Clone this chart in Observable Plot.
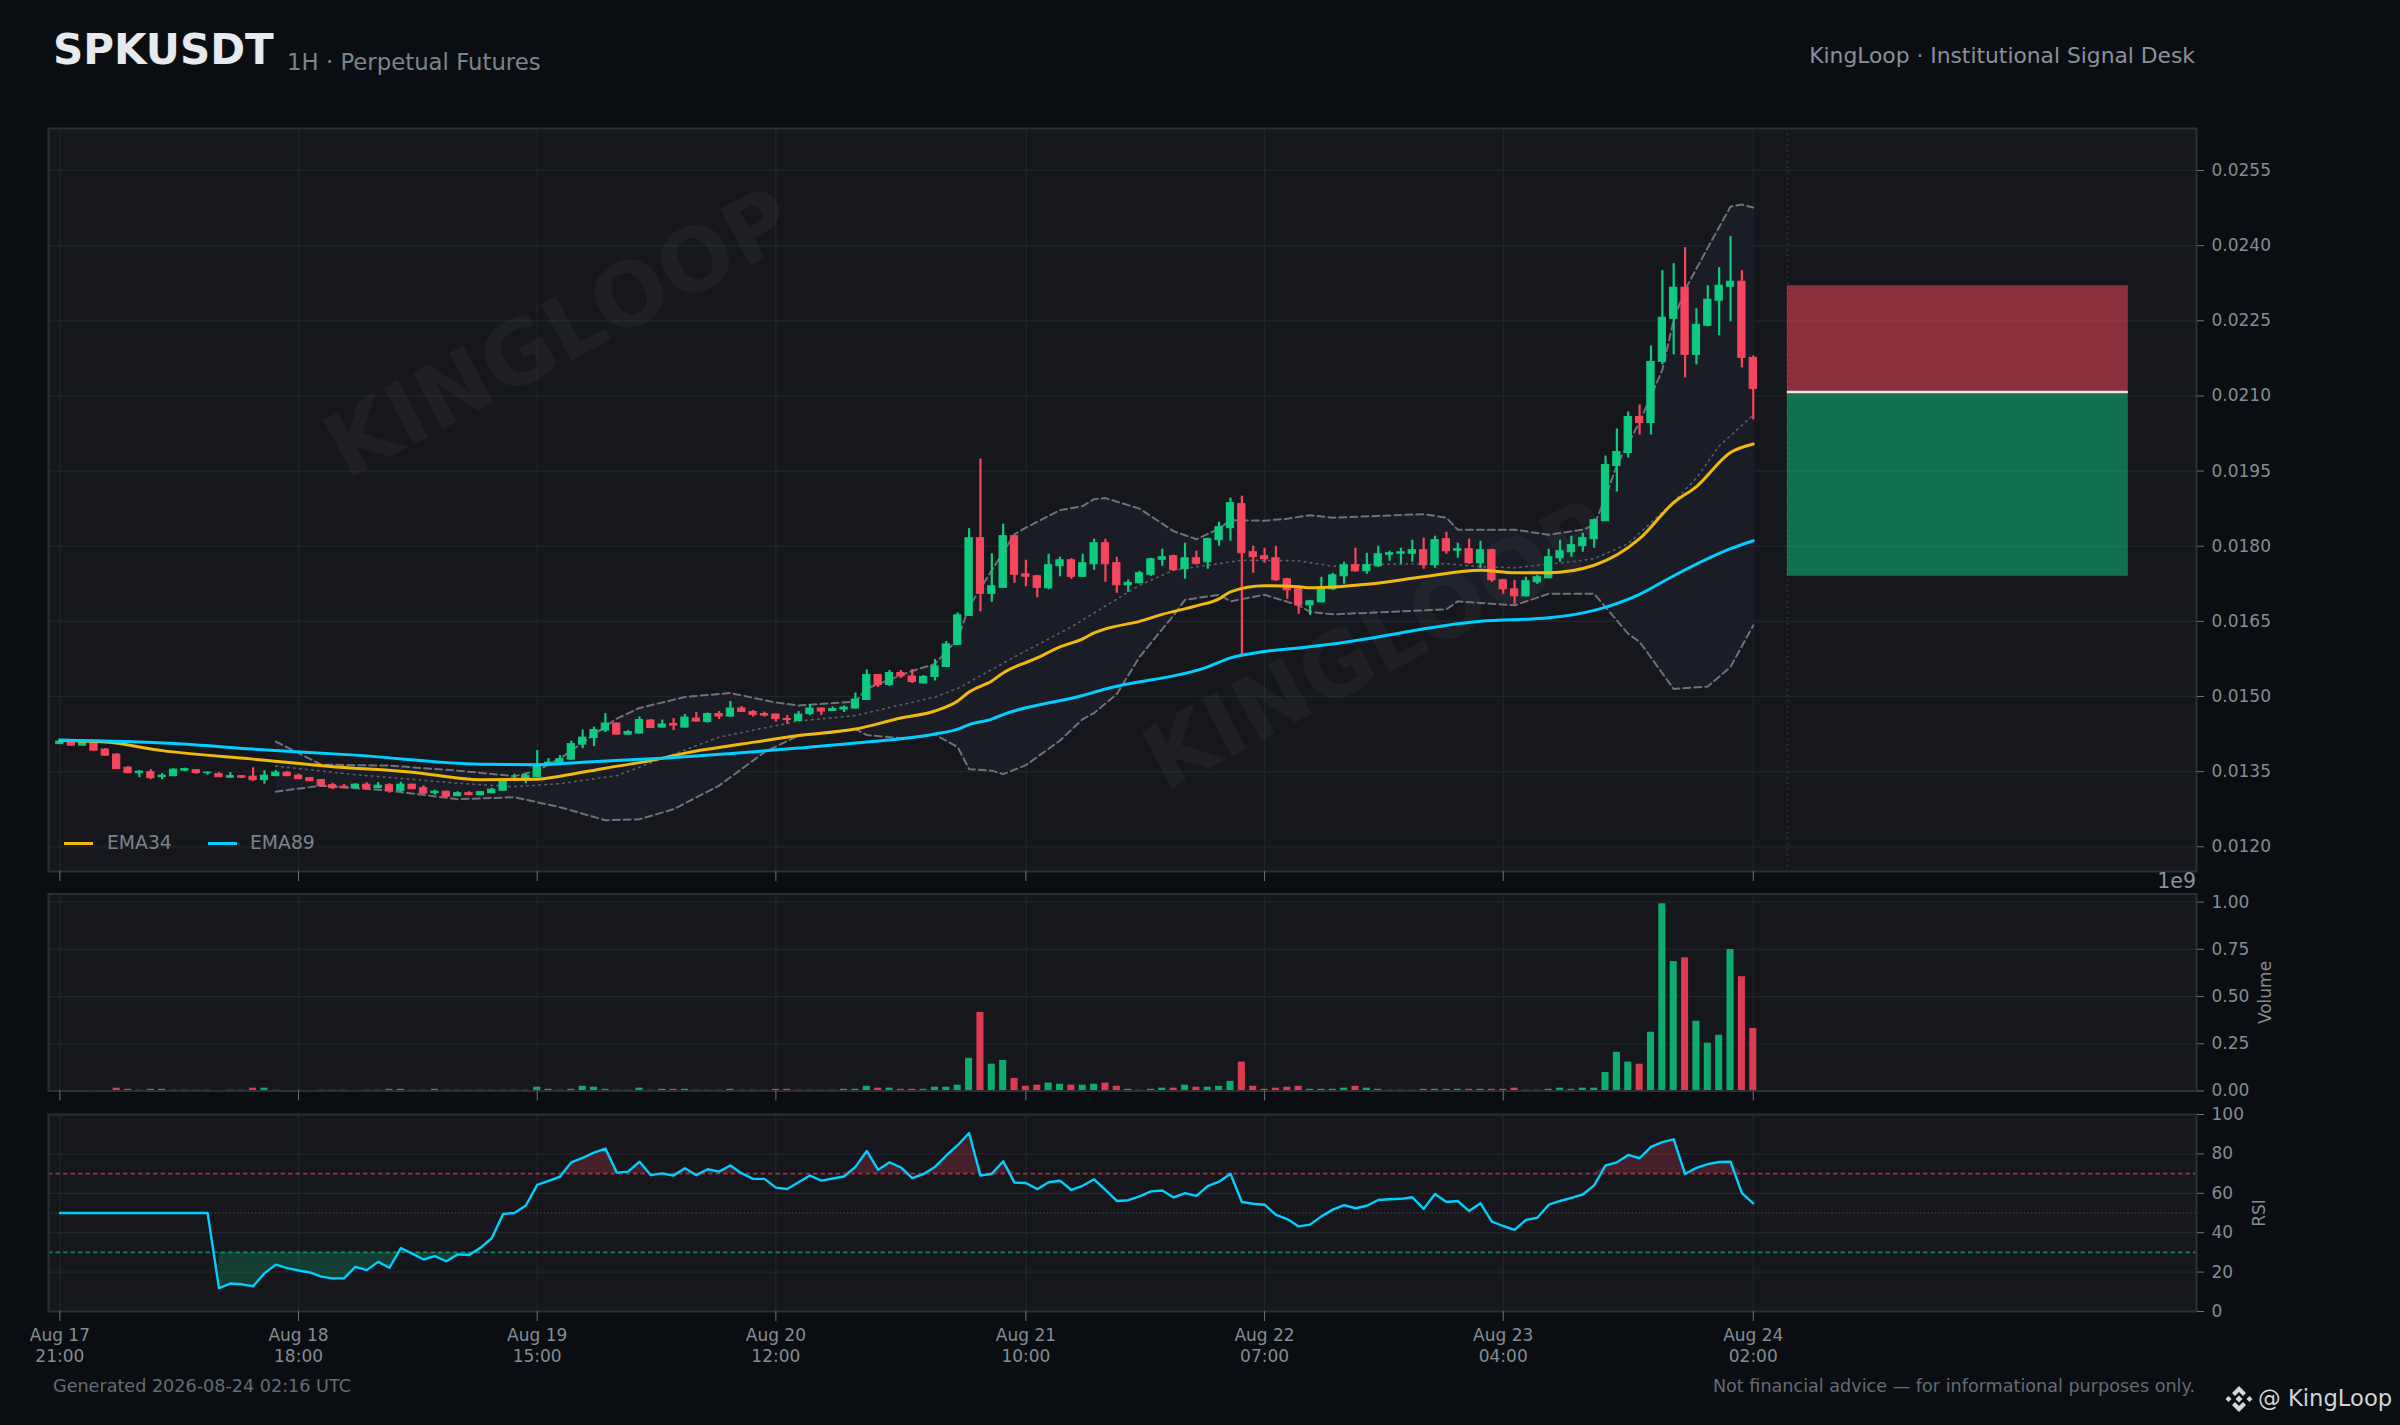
<!DOCTYPE html>
<html><head><meta charset="utf-8">
<script src="https://cdn.jsdelivr.net/npm/d3@7"></script>
<script src="https://cdn.jsdelivr.net/npm/@observablehq/plot@0.6"></script>
<style>
html,body{margin:0;padding:0;background:#0a0e12;width:2400px;height:1425px;overflow:hidden}
#page{position:relative;width:2400px;height:1425px;font-family:"DejaVu Sans",sans-serif}
#page>div{position:absolute;white-space:nowrap;line-height:1}
#page svg{overflow:visible;background:transparent}
.pane{left:0}
</style></head><body>
<div id="page">
<div class="pane" id="main" style="top:126px"></div>
<div class="pane" id="vol" style="top:891px"></div>
<div class="pane" id="rsi" style="top:1112px"></div>
<div style="left:53px;top:29px;font-size:42px;font-weight:bold;color:#e6e9ed">SPKUSDT</div>
<div style="left:287px;top:51px;font-size:22.8px;color:#7b838d">1H · Perpetual Futures</div>
<div style="right:205px;top:45px;font-size:21.8px;color:#8a9099">KingLoop · Institutional Signal Desk</div>
<div style="left:53px;top:1378px;font-size:17.6px;color:#656b74">Generated 2026-08-24 02:16 UTC</div>
<div style="right:205px;top:1378px;font-size:17.6px;color:#656b74">Not financial advice — for informational purposes only.</div>
<div style="right:204px;top:871px;font-size:20.5px;color:#8a9099">1e9</div>
<div style="left:64px;top:834px;width:29px;height:3px;margin-top:8px;background:#f0b90b"></div>
<div style="left:107px;top:834px;font-size:18.8px;color:#7d838c">EMA34</div>
<div style="left:208px;top:834px;width:29px;height:3px;margin-top:8px;background:#00d0ff"></div>
<div style="left:250px;top:834px;font-size:18.8px;color:#7d838c">EMA89</div>
<div style="left:2225px;top:1385px;width:28px;height:28px">
<svg width="28" height="28" viewBox="0 0 28 28"><g fill="#d4d7dc"><path d="M14 10.5L17.5 14 14 17.5 10.5 14z"/><path d="M14 1L21 8 18 11 14 7 10 11 7 8z"/><path d="M14 27L21 20 18 17 14 21 10 17 7 20z"/><path d="M0.5 14L3.5 11 6.5 14 3.5 17z"/><path d="M27.500 14L24.500 11 21.500 14 24.500 17z"/></g></svg></div>
<div style="left:2258px;top:1387px;font-size:22.7px;color:#d0d3d8">@ KingLoop</div>
</div>
<script>
const open=[.01405,.01408,.01402,.01407,.01394,.01384,.01358,.01347,.01349,.01339,.01341,.01352,.01353,.01347,.01345,.01338,.01341,.0134,.01333,.01341,.01348,.01342,.01337,.01333,.01323,.0132,.01317,.01324,.01317,.01323,.01312,.01324,.01317,.01307,.0131,.01301,.01307,.01303,.01307,.01312,.01334,.01335,.01339,.01362,.01367,.01374,.01404,.01417,.01432,.01446,.01424,.01426,.01452,.01438,.01445,.01438,.01456,.01449,.01465,.0146,.01476,.01469,.01465,.01464,.01455,.01451,.01465,.01476,.01471,.01474,.01476,.01493,.01543,.01523,.01547,.0154,.01526,.01539,.01559,.01603,.01661,.01816,.01705,.01717,.0182,.01744,.0174,.01716,.0176,.01772,.01739,.01764,.01806,.01766,.01722,.01726,.01743,.01773,.0178,.01754,.01776,.01768,.01812,.01836,.01884,.01788,.0178,.01776,.01734,.01716,.01682,.01688,.01714,.0174,.01762,.0175,.0176,.01783,.01785,.01785,.01792,.01762,.01814,.01791,.01794,.01766,.01792,.01732,.01714,.017,.01728,.01736,.01776,.01788,.018,.01814,.0185,.0196,.01986,.02058,.02046,.02168,.02254,.02316,.02182,.0224,.0229,.02318,.02328,.02176];
const high=[.01412,.0141,.0141,.01408,.01396,.01386,.0136,.01352,.01354,.01346,.01356,.01357,.01354,.01349,.01348,.01348,.01342,.01358,.01352,.01352,.0135,.01345,.01338,.01334,.01327,.01324,.01326,.01328,.01328,.01326,.01329,.01325,.01322,.01313,.01311,.0131,.0131,.0131,.01317,.01333,.01345,.01346,.01392,.01376,.01382,.01411,.01433,.01439,.01466,.01447,.01432,.01459,.01454,.01453,.01456,.01464,.01468,.01467,.0147,.0149,.0148,.01472,.01469,.01465,.01462,.0147,.01484,.01477,.01479,.01481,.01507,.01553,.01544,.01552,.01552,.01554,.01542,.01574,.0161,.01667,.01835,.01974,.01785,.01844,.01821,.01772,.01742,.01784,.01778,.01775,.01784,.01814,.01814,.01778,.01733,.0175,.01776,.01794,.01782,.01806,.0179,.01816,.01848,.01896,.019,.018,.01796,.018,.01736,.01716,.01692,.01738,.01746,.01768,.01796,.01786,.018,.0179,.01796,.01812,.01816,.0182,.01828,.01806,.01814,.0181,.01794,.01734,.01732,.01738,.01742,.01794,.01812,.0182,.01826,.01854,.0198,.02034,.02068,.02082,.022,.0235,.02364,.02396,.02274,.0232,.02356,.02418,.0235,.0218];
const low=[.01404,.01401,.01401,.01391,.01381,.01354,.01346,.01338,.01334,.01334,.0134,.0135,.01345,.01343,.01338,.01337,.01336,.0133,.01325,.0134,.0134,.01334,.0133,.0132,.01314,.01316,.01316,.01315,.01316,.01307,.01309,.01314,.01305,.01303,.01297,.013,.01302,.01302,.01306,.01311,.0133,.01326,.01338,.0136,.01365,.01373,.01396,.014,.01428,.01423,.01423,.01425,.01436,.01437,.01432,.01437,.01449,.01447,.01454,.01459,.01468,.01459,.01459,.01449,.01444,.0145,.01462,.01462,.0147,.01468,.01475,.01492,.01518,.0152,.01536,.01526,.01525,.01531,.01558,.01602,.0166,.01669,.01688,.01716,.01726,.01719,.01697,.01713,.01739,.01734,.01738,.01752,.01728,.01706,.01708,.01725,.0174,.0176,.0175,.01734,.01762,.01754,.018,.0181,.01582,.01746,.01766,.0173,.01694,.01664,.01662,.01687,.01712,.01724,.01748,.01744,.01758,.0177,.01764,.01768,.01754,.01756,.01784,.01776,.01764,.01756,.01728,.01704,.01684,.01699,.01724,.01735,.01768,.01778,.01788,.01796,.01849,.01908,.01976,.02022,.02022,.02162,.02182,.02136,.02162,.02238,.0222,.02248,.02156,.02052];
const close=[.0141,.01402,.01408,.01392,.01382,.01355,.01347,.0135,.01337,.01342,.01354,.01355,.01347,.01348,.01339,.01341,.01338,.01333,.01342,.01348,.01341,.01335,.01331,.01321,.01317,.01317,.01324,.01316,.01322,.01312,.01324,.01315,.01306,.0131,.013,.01307,.01303,.01309,.01314,.01331,.01336,.01342,.01364,.01368,.01375,.01405,.01418,.01433,.01446,.01424,.01429,.01453,.01437,.01444,.01442,.01458,.0145,.01465,.0146,.01476,.01469,.01463,.01462,.01455,.01453,.01464,.01476,.0147,.01475,.01478,.01494,.01543,.01523,.01547,.0154,.01529,.01539,.0156,.01604,.01662,.01816,.01705,.0172,.0182,.01743,.01739,.01717,.01762,.01772,.01739,.01766,.01806,.01764,.01722,.01727,.01746,.01774,.01778,.01752,.01776,.01765,.01814,.01838,.01886,.01786,.01778,.01774,.01732,.01712,.01682,.0169,.01714,.01742,.01762,.0175,.01762,.01784,.01786,.01788,.01792,.01762,.01812,.0179,.01794,.01766,.01792,.01732,.01714,.017,.0173,.01738,.01778,.0179,.01802,.01816,.01852,.01962,.01988,.02058,.02046,.02168,.02256,.02316,.02182,.02242,.02292,.0232,.02328,.02176,.02114];
const volume=[0,0,0,.003,.003,.015,.009,.004,.009,.009,.004,.004,.004,.004,.003,.004,.004,.015,.015,.004,.003,.003,.003,.004,.004,.004,.003,.004,.004,.009,.009,.004,.004,.009,.004,.004,.004,.004,.004,.004,.004,.004,.02,.009,.004,.009,.025,.02,.009,.004,.004,.015,.004,.009,.009,.009,.004,.004,.004,.009,.004,.004,.004,.009,.009,.004,.004,.004,.004,.009,.009,.025,.015,.015,.009,.009,.009,.02,.02,.031,.173,.416,.142,.162,.067,.025,.031,.042,.036,.031,.031,.036,.042,.025,.009,.004,.009,.015,.015,.031,.02,.02,.025,.051,.153,.025,.009,.015,.02,.025,.009,.009,.009,.015,.025,.015,.009,.004,.004,.004,.009,.009,.009,.009,.009,.009,.009,.009,.015,.004,.004,.009,.015,.009,.015,.015,.098,.205,.153,.142,.311,.991,.685,.705,.369,.253,.295,.749,.605,.331];
const rsi=[50,50,50,50,50,50,50,50,50,50,50,50,50,50,11.9,14.2,13.8,12.8,19.4,23.8,22,20.8,19.8,17.7,16.8,16.8,22.7,21,25.2,22.2,32.2,29.4,26.4,28.1,25.5,29,28.7,32.3,37.2,49.5,50,53.8,64.3,66.3,68.4,75.7,78,80.6,82.7,70.5,71,76,69.2,70.1,69,72.7,69.2,72.2,71,74.1,70.1,67.3,67.3,62.9,62.2,65.6,69,66.4,67.5,68.5,73.4,81.5,71.9,75.7,73.1,67.7,69.8,73.4,79.2,84.4,90.6,69,69.9,76.2,65.4,65.2,62.1,65.6,66.4,61.7,63.8,67.1,61.7,56.1,56.5,58.4,61,61.4,57.9,60.1,58.7,63.6,65.9,69.9,55.6,54.7,54.2,49,46.9,43.2,44.1,48.3,51.7,54,52.4,53.7,56.6,57,57.2,58,52.1,59.6,55.6,56.1,51,54.9,45.6,43.4,41.4,46.5,47.6,54.2,56.1,57.7,59.4,64,74.1,75.7,79.5,77.8,83.6,86,87.4,69.8,72.9,74.8,75.9,76,60.1,54.9];
// read-off lines: [bar index, price]
const ema34=[[0,.01412],[4,.01409],[9,.01392],[17,.01375],[24,.0136],[31,.01349],[37,.01334],[42,.01335],[44,.01341],[48,.01357],[52,.01372],[55,.01387],[60,.01405],[65,.01422],[70,.01435],[74,.01457],[77,.01471],[79,.01491],[80,.01509],[82,.01531],[83,.01547],[86,.01577],[88,.01599],[90,.01615],[91,.01627],[92,.01635],[95,.0165],[97,.01664],[100,.01681],[102,.01695],[103,.01709],[106,.01721],[109,.01719],[110,.01717],[115,.01724],[120,.01739],[125,.01752],[128,.01747],[131,.01747],[135,.01762],[139,.01815],[142,.01887],[144,.01919],[147,.01987],[149,.02004]];
const ema89=[[0,.01413],[10,.01406],[17,.01395],[26,.01383],[37,.01365],[42,.01364],[46,.01369],[53,.01377],[65,.01397],[70,.01407],[77,.01425],[79,.01435],[80,.01444],[82,.01455],[83,.01464],[90,.01502],[92,.01515],[101,.01559],[103,.01577],[106,.0159],[109,.01597],[112,.01605],[125,.0165],[131,.01657],[135,.01672],[139,.01704],[142,.01741],[147,.01795],[149,.01811]];
const bbUpper=[[19,.0141],[23,.01364],[29,.01362],[35,.01352],[40,.01341],[42,.01352],[44,.01376],[49,.01456],[51,.01477],[55,.01499],[59,.01507],[63,.01488],[65,.01482],[70,.0149],[71,.01516],[75,.01551],[77,.01565],[79,.01615],[80,.01679],[82,.01752],[84,.01824],[85,.01837],[88,.01872],[90,.0188],[91,.01894],[92,.01896],[95,.01875],[98,.0183],[100,.01814],[102,.01835],[103,.01852],[106,.01851],[108,.01855],[110,.01862],[112,.01857],[120,.01864],[122,.01857],[123,.01833],[128,.01833],[131,.01823],[134,.01833],[135,.01842],[136,.01898],[137,.01962],[139,.02048],[141,.02152],[142,.02252],[143,.02312],[145,.02396],[147,.02478],[148,.02482],[149,.02476]];
const bbMid=[[19,.01361],[26,.01344],[35,.01327],[40,.0132],[44,.01326],[49,.01342],[53,.01376],[58,.01419],[65,.01451],[70,.01462],[77,.01499],[79,.01516],[84,.01579],[89,.01639],[95,.01722],[98,.01752],[104,.01772],[109,.01771],[112,.0176],[116,.01764],[122,.01765],[125,.01759],[128,.01757],[133,.01769],[135,.01775],[138,.01805],[142,.01889],[144,.01936],[146,.02],[149,.02062]];
const bbLower=[[19,.0131],[23,.01322],[29,.01312],[35,.01295],[40,.01299],[44,.01279],[48,.01253],[51,.01255],[54,.01275],[58,.01322],[62,.01389],[65,.01422],[70,.01435],[71,.01423],[74,.01417],[77,.01424],[79,.01399],[80,.01355],[82,.01352],[83,.01345],[85,.01363],[88,.01412],[90,.01455],[91,.01467],[93,.01505],[95,.01579],[98,.01662],[99,.01693],[102,.01703],[103,.0169],[106,.01703],[109,.01682],[110,.01669],[112,.01664],[122,.01674],[123,.0169],[128,.01682],[131,.01705],[135,.01705],[138,.01625],[139,.01609],[142,.01515],[145,.0152],[147,.01559],[149,.01642]];
const priceTicks=[.012,.0135,.015,.0165,.018,.0195,.021,.0225,.024,.0255];
const volTicks=[0,.25,.5,.75,1];
const rsiTicks=[0,20,40,60,80,100];
const barTicks=[0,21,42,63,85,106,127,149];
const barLabels=["Aug 17\n21:00","Aug 18\n18:00","Aug 19\n15:00","Aug 20\n12:00","Aug 21\n10:00","Aug 22\n07:00","Aug 23\n04:00","Aug 24\n02:00"];
const zoneBars=[152,182];
const zoneStop=.0232, zoneEntry=.02108, zoneTarget=.0174;
const watermark=[{i:44,p:.02222},{i:116,p:.016}];
const priceDomain=[.011507,.026338], volDomain=[0,1.0428], barDomain=[-1,188];

const GREEN="#0ecb81", RED="#f6465d", GRID="#212429", TICK="#6d7178", LABEL="#858b94";
const bars=d3.range(150).map(i=>({i,o:open[i],h:high[i],l:low[i],c:close[i],v:volume[i],r:rsi[i],up:close[i]>=open[i]}));
const base={width:2400,marginLeft:48,marginRight:204,style:{background:"transparent",fontFamily:"DejaVu Sans",overflow:"visible"}};
const xScale={type:"linear",domain:barDomain};
const paneBg=()=>Plot.frame({fill:"#15171c",stroke:"none"});
const paneEdge=()=>Plot.frame({stroke:"#2b2e34",strokeWidth:2});
const gridX=()=>Plot.gridX(barTicks,{stroke:GRID,strokeOpacity:1,strokeWidth:1.2});
const gridY=t=>Plot.gridY(t,{stroke:GRID,strokeOpacity:1,strokeWidth:1.2});
const axY=(t,f)=>Plot.axisY(t,{anchor:"right",tickSize:7,tickPadding:8,fontSize:17,stroke:TICK,fill:LABEL,tickFormat:f,label:null});
const axX=lab=>Plot.axisX(barTicks,{anchor:"bottom",tickSize:10,tickPadding:4,fontSize:17,lineHeight:1.25,stroke:TICK,fill:lab?LABEL:"none",tickFormat:lab?(d=>barLabels[barTicks.indexOf(d)]):(()=>""),label:null});
const bandOutline=bbUpper.concat(bbLower.slice().reverse());

document.getElementById("main").append(Plot.plot({...base,height:760,marginTop:2,marginBottom:15,
 x:xScale,y:{domain:priceDomain},
 marks:[paneBg(),gridX(),gridY(priceTicks),
  Plot.ruleX(zoneBars.slice(0,1),{stroke:"#3a3d44",strokeDasharray:"1.5,4",strokeWidth:1.2}),
  Plot.line(bandOutline,{x:d=>d[0],y:d=>d[1],fill:"#1a1d26",stroke:"none"}),
  Plot.text(watermark,{x:"i",y:"p",text:()=>"KINGLOOP",fontSize:88,fontWeight:"bold",rotate:-28,fill:"#fff",fillOpacity:.035}),
  Plot.line(bbUpper,{x:d=>d[0],y:d=>d[1],stroke:"#6e7178",strokeWidth:2,strokeDasharray:"7,4"}),
  Plot.line(bbLower,{x:d=>d[0],y:d=>d[1],stroke:"#6e7178",strokeWidth:2,strokeDasharray:"7,4"}),
  Plot.line(bbMid,{x:d=>d[0],y:d=>d[1],stroke:"#5c5f66",strokeWidth:1.6,strokeDasharray:"1.5,4.5"}),
  Plot.rect([0],{x1:()=>zoneBars[0],x2:()=>zoneBars[1],y1:()=>zoneEntry,y2:()=>zoneStop,fill:RED,fillOpacity:.53}),
  Plot.rect([0],{x1:()=>zoneBars[0],x2:()=>zoneBars[1],y1:()=>zoneTarget,y2:()=>zoneEntry,fill:GREEN,fillOpacity:.5}),
  Plot.ruleY([zoneEntry],{x1:()=>zoneBars[0],x2:()=>zoneBars[1],stroke:"#e4e4e4",strokeWidth:2.5}),
  Plot.ruleX(bars,{x:"i",y1:"l",y2:"h",stroke:d=>d.up?GREEN:RED,strokeWidth:2.2}),
  Plot.rect(bars,{x1:d=>d.i-.32,x2:d=>d.i+.32,y1:"o",y2:"c",fill:d=>d.up?GREEN:RED,stroke:d=>d.up?GREEN:RED,strokeWidth:1}),
  Plot.line(ema34,{x:d=>d[0],y:d=>d[1],stroke:"#f0b90b",strokeWidth:3,curve:"monotone-x"}),
  Plot.line(ema89,{x:d=>d[0],y:d=>d[1],stroke:"#00d0ff",strokeWidth:3,curve:"monotone-x"}),
  paneEdge(),axX(false),axY(priceTicks,d3.format(".4f"))
 ]}));

document.getElementById("vol").append(Plot.plot({...base,height:212,marginTop:2.5,marginBottom:12.5,
 x:xScale,y:{domain:volDomain},
 marks:[paneBg(),gridX(),gridY(volTicks),
  Plot.rect(bars,{x1:d=>d.i-.31,x2:d=>d.i+.31,y1:()=>0,y2:"v",fill:d=>d.up?"#0dac6e":"#dc3b52"}),
  paneEdge(),axX(false),axY(volTicks,d3.format(".2f")),
  Plot.text(["Volume"],{frameAnchor:"right",textAnchor:"middle",dx:69,rotate:-90,fontSize:17,fill:LABEL})
 ]}));

document.getElementById("rsi").append(Plot.plot({...base,height:262,marginTop:2,marginBottom:63,
 x:xScale,y:{domain:[0,100]},
 marks:[paneBg(),gridX(),gridY(rsiTicks),
  Plot.areaY(bars,{x:"i",y1:()=>70,y2:d=>Math.max(d.r,70),fill:RED,fillOpacity:.22}),
  Plot.areaY(bars.slice(14),{x:"i",y1:()=>30,y2:d=>Math.min(d.r,30),fill:GREEN,fillOpacity:.22}),
  Plot.ruleY([70],{stroke:RED,strokeOpacity:.6,strokeWidth:1.8,strokeDasharray:"4.5,3"}),
  Plot.ruleY([30],{stroke:GREEN,strokeOpacity:.6,strokeWidth:1.8,strokeDasharray:"4.5,3"}),
  Plot.ruleY([50],{stroke:"#55585f",strokeWidth:1.2,strokeDasharray:"1.2,2.5"}),
  Plot.line(bars,{x:"i",y:"r",stroke:"#00d0ff",strokeWidth:2.4}),
  paneEdge(),axX(true),axY(rsiTicks,d3.format("d")),
  Plot.text(["RSI"],{frameAnchor:"right",textAnchor:"middle",dx:63,rotate:-90,fontSize:17,fill:LABEL})
 ]}));
</script>
</body></html>
